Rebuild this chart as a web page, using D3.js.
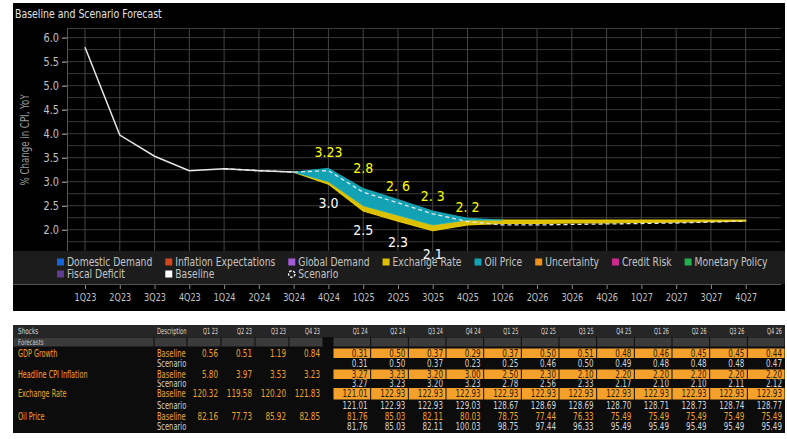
<!DOCTYPE html>
<html>
<head>
<meta charset="utf-8">
<script src="https://cdn.jsdelivr.net/npm/d3@7"></script>
<style>
  body { margin: 0; background: #fff; }
  svg { display: block; }
  text { font-family: 'DejaVu Sans Condensed', 'DejaVu Sans', sans-serif; }
</style>
</head>
<body>
<div id="chart"></div>
<script>
// DATA
const quarters = ['1Q23', '2Q23', '3Q23', '4Q23', '1Q24', '2Q24', '3Q24', '4Q24', '1Q25', '2Q25',
  '3Q25', '4Q25', '1Q26', '2Q26', '3Q26', '4Q26', '1Q27', '2Q27', '3Q27', '4Q27'];
const baselineCPI = [5.80, 3.97, 3.53, 3.23, 3.27, 3.23, 3.20, 3.00, 2.50, 2.30,
  2.10, 2.20, 2.20, 2.20, 2.20, 2.20, 2.20, 2.20, 2.20, 2.20];
const scenarioCPI = [null, null, null, null, 3.27, 3.23, 3.20, 3.23, 2.78, 2.56,
  2.33, 2.17, 2.10, 2.10, 2.11, 2.12, 2.13, 2.14, 2.16, 2.18];
const oilContribution = [null, null, null, null, null, null, 0, 0.28, 0.36, 0.33,
  0.29, 0.04, 0, null, null, null, null, null, null, null];
const fxContribution = [null, null, null, null, null, null, 0, -0.05, -0.11, -0.12,
  -0.12, -0.10, -0.07, -0.07, -0.06, -0.06, -0.05, -0.04, -0.03, -0.02];
const yTicks = [2.0, 2.5, 3.0, 3.5, 4.0, 4.5, 5.0, 5.5, 6.0];

// value labels on the chart
const scenarioLabels = ['3.23', '2.8', '2. 6', '2. 3', '2. 2'];
const scenarioLabelQuarters = ['4Q24', '1Q25', '2Q25', '3Q25', '4Q25'];
const baselineLabels = ['3.0', '2.5', '2.3', '2.1'];
const baselineLabelQuarters = ['4Q24', '1Q25', '2Q25', '3Q25'];

const legendNames = ['Domestic Demand', 'Inflation Expectations', 'Global Demand', 'Exchange Rate',
  'Oil Price', 'Uncertainty', 'Credit Risk', 'Monetary Policy', 'Fiscal Deficit', 'Baseline', 'Scenario'];

// table
const tableQuarters = ['Q1 23', 'Q2 23', 'Q3 23', 'Q4 23', 'Q1 24', 'Q2 24', 'Q3 24', 'Q4 24',
  'Q1 25', 'Q2 25', 'Q3 25', 'Q4 25', 'Q1 26', 'Q2 26', 'Q3 26', 'Q4 26'];
const gdpBaseline = [0.56, 0.51, 1.19, 0.84, 0.31, 0.50, 0.37, 0.29, 0.37, 0.50, 0.51, 0.48, 0.46, 0.45, 0.45, 0.44];
const gdpScenario = [null, null, null, null, 0.31, 0.50, 0.37, 0.23, 0.25, 0.46, 0.50, 0.49, 0.48, 0.48, 0.48, 0.47];
const cpiScenarioTable = scenarioCPI.slice(0, 16);
const fxBaseline = [120.32, 119.58, 120.20, 121.83, 121.01, 122.93, 122.93, 122.93, 122.93, 122.93,
  122.93, 122.93, 122.93, 122.93, 122.93, 122.93];
const fxScenario = [null, null, null, null, 121.01, 122.93, 122.93, 129.03, 128.67, 128.69,
  128.69, 128.70, 128.71, 128.73, 128.74, 128.77];
const oilBaseline = [82.16, 77.73, 85.92, 82.85, 81.76, 85.03, 82.11, 80.03, 78.75, 77.44,
  76.33, 75.49, 75.49, 75.49, 75.49, 75.49];
const oilScenario = [null, null, null, null, 81.76, 85.03, 82.11, 100.03, 98.75, 97.44,
  96.33, 95.49, 95.49, 95.49, 95.49, 95.49];

// SETTINGS
const width = 787;
const height = 439;
const panel = { x: 13, y: 3, w: 772, h: 308 };
const margin = { top: 28, left: 67 };
const graphWidth = 714;
const graphHeight = 256;
const legendTop = 251;
const gridColor = '#3a3a3a';
const axisText = '#c4c4c4';
const teal = '#12a2b4';
const yellow = '#dcc000';
const orange = '#f4a12c';
const legendColors = {
  'Domestic Demand': '#1565d6', 'Inflation Expectations': '#d2461d', 'Global Demand': '#a25ad6',
  'Exchange Rate': '#dcc000', 'Oil Price': '#14a3b4', 'Uncertainty': '#f0901f',
  'Credit Risk': '#cc2a8e', 'Monetary Policy': '#22b14c', 'Fiscal Deficit': '#5f3c8e', 'Baseline': '#ffffff'
};
// label anchors in % units
const scenarioLabelLevels = [3.52, 3.18, 2.81, 2.60, 2.37];
const baselineLabelLevels = [2.45, 1.90, 1.63, 1.385];

// squeeze text horizontally, the terminal font is much narrower than anything installed
function squeeze(sel, k) {
  sel.each(function () {
    const t = d3.select(this);
    t.attr('x', (+t.attr('x') || 0) / k)
      .attr('transform', `scale(${k},1)`);
  });
}

// SCALES
const x = d3.scalePoint().domain(quarters).range([18, 678.7]);
const y = d3.scaleLinear().domain([0.87, 6.2]).range([graphHeight, 0]);

const svg = d3.select('#chart')
  .append('svg')
  .attr('width', width)
  .attr('height', height);

// CHART PANEL
svg.append('rect')
  .attr('x', panel.x).attr('y', panel.y)
  .attr('width', panel.w).attr('height', panel.h)
  .attr('fill', '#000');

svg.append('text')
  .attr('x', 15).attr('y', 18)
  .attr('fill', '#e2e2e2')
  .attr('font-size', 12)
  .text('Baseline and Scenario Forecast')
  .call(squeeze, 0.87);

const graph = svg.append('g')
  .attr('transform', `translate(${margin.left}, ${margin.top})`);

// GRID
graph.append('g')
  .selectAll('line')
  .data(d3.range(1, 6.01, 0.25))
  .join('line')
  .attr('x1', 0).attr('x2', graphWidth)
  .attr('y1', d => y(d)).attr('y2', d => y(d))
  .attr('stroke', gridColor);

graph.append('line')
  .attr('x1', 0).attr('x2', graphWidth)
  .attr('y1', 0.5).attr('y2', 0.5)
  .attr('stroke', gridColor);

graph.append('g')
  .selectAll('line')
  .data(quarters)
  .join('line')
  .attr('x1', d => x(d)).attr('x2', d => x(d))
  .attr('y1', 0).attr('y2', graphHeight)
  .attr('stroke', '#444');

// LEGEND BAND
svg.append('rect')
  .attr('x', panel.x).attr('y', legendTop)
  .attr('width', panel.w).attr('height', margin.top + graphHeight - legendTop)
  .attr('fill', '#1c1c1c');

// AXES
const yAxisGroup = graph.append('g')
  .call(d3.axisLeft(y).tickValues(yTicks).tickFormat(d3.format('.1f')).tickSize(5).tickPadding(3));
yAxisGroup.select('.domain').remove();
yAxisGroup.selectAll('line').attr('stroke', '#bbb');
yAxisGroup.selectAll('text').attr('fill', axisText).attr('font-size', 12)
  .attr('font-family', "'DejaVu Sans Condensed', sans-serif")
  .call(squeeze, 0.9);

graph.append('line')
  .attr('x1', 0.5).attr('x2', 0.5)
  .attr('y1', 0).attr('y2', legendTop - margin.top)
  .attr('stroke', '#555');

const xAxisGroup = graph.append('g')
  .attr('transform', `translate(0, ${graphHeight})`)
  .call(d3.axisBottom(x).tickSize(5).tickPadding(4));
xAxisGroup.select('.domain').remove();
xAxisGroup.selectAll('line').attr('stroke', '#888');
xAxisGroup.selectAll('text').attr('fill', axisText).attr('font-size', 11)
  .attr('font-family', "'DejaVu Sans Condensed', sans-serif")
  .call(squeeze, 0.82);

graph.append('line')
  .attr('x1', -margin.left + panel.x).attr('x2', graphWidth)
  .attr('y1', graphHeight + 0.5).attr('y2', graphHeight + 0.5)
  .attr('stroke', '#555');

svg.append('text')
  .attr('transform', `translate(29, ${margin.top + y(3.87)}) rotate(-90) scale(0.8,1)`)
  .attr('text-anchor', 'middle')
  .attr('fill', '#9a9a9a')
  .attr('font-size', 12)
  .text('% Change in CPI, YoY');

// SHOCK CONTRIBUTION AREAS
const rows = quarters.map((q, i) => ({
  q, base: baselineCPI[i], scen: scenarioCPI[i], oil: oilContribution[i], fx: fxContribution[i]
}));

const oilArea = d3.area()
  .defined(d => d.oil !== null)
  .x(d => x(d.q))
  .y0(d => y(d.base))
  .y1(d => y(d.base + d.oil));

const fxArea = d3.area()
  .defined(d => d.fx !== null)
  .x(d => x(d.q))
  .y0(d => y(d.base))
  .y1(d => y(d.base + d.fx));

graph.append('path')
  .datum(rows)
  .attr('d', fxArea)
  .attr('fill', yellow)
  .attr('stroke', '#e6ca08')
  .attr('stroke-width', 1.2);

graph.append('path')
  .datum(rows)
  .attr('d', oilArea)
  .attr('fill', teal)
  .attr('stroke', '#1bb0c2')
  .attr('stroke-width', 0.8);

// LINES
const baseLine = d3.line()
  .x(d => x(d.q))
  .y(d => y(d.base));

graph.append('path')
  .datum(rows.filter(d => d.fx === null || d.fx === 0))
  .attr('d', baseLine)
  .attr('fill', 'none')
  .attr('stroke', '#e6e6e6')
  .attr('stroke-width', 1.5);

const scenLine = d3.line()
  .defined(d => d.scen !== null)
  .x(d => x(d.q))
  .y(d => y(d.scen));

graph.append('path')
  .datum(rows)
  .attr('d', scenLine)
  .attr('fill', 'none')
  .attr('stroke', '#e8e8e8')
  .attr('stroke-width', 1.3)
  .attr('stroke-dasharray', '4,3');

// LEGEND
const legendK = 0.89;
const legend = svg.append('g')
  .attr('font-size', 11.5)
  .attr('fill', axisText);

const legendRowY = [262, 274];
const colX = [];
let cursor = 57;
legendNames.forEach((name, i) => {
  const row = i < 8 ? 0 : 1;
  const col = row === 0 ? i : i - 8;
  if (row === 0) colX.push(cursor);
  const lx = colX[col];
  const ly = legendRowY[row];
  const item = legend.append('g').attr('transform', `translate(${lx}, ${ly})`);
  if (name === 'Scenario') {
    item.append('circle')
      .attr('cx', 3.5).attr('cy', 0).attr('r', 3.2)
      .attr('fill', 'none')
      .attr('stroke', '#fff')
      .attr('stroke-width', 1.4)
      .attr('stroke-dasharray', '2.5,1.5');
  } else {
    item.append('rect')
      .attr('x', 0).attr('y', -3.5)
      .attr('width', 7).attr('height', 7)
      .attr('fill', legendColors[name]);
  }
  const t = item.append('text')
    .attr('x', 10).attr('y', 4)
    .text(name)
    .call(squeeze, legendK);
  if (row === 0) cursor = lx + 10 + t.node().getComputedTextLength() * legendK + 13;
});

// VALUE LABELS (above the legend band)
const labels = svg.append('g')
  .attr('transform', `translate(${margin.left}, ${margin.top})`)
  .attr('font-family', "'Liberation Sans', Arial, sans-serif")
  .attr('font-size', 14)
  .attr('text-anchor', 'middle');

labels.append('g')
  .selectAll('text')
  .data(scenarioLabels)
  .join('text')
  .attr('x', (d, i) => x(scenarioLabelQuarters[i]))
  .attr('y', (d, i) => y(scenarioLabelLevels[i]))
  .attr('fill', '#ffff00')
  .text(d => d);

labels.append('g')
  .selectAll('text')
  .data(baselineLabels)
  .join('text')
  .attr('x', (d, i) => x(baselineLabelQuarters[i]))
  .attr('y', (d, i) => y(baselineLabelLevels[i]))
  .attr('fill', '#ffffff')
  .text(d => d);

// TABLE
const table = svg.append('g');
const tableLeft = 13;
const tableRight = 785;
const headerTop = 325;
const fmt = d3.format('.2f');

// column right edges: 2023 columns are narrower than forecast columns
const histX = d3.scaleLinear().domain([0, 3]).range([221, 323]);
const fcstStep = (tableRight - 333) / 12;
const cellLeft = i => i < 4 ? histX(i) - 34 : 333 + (i - 4) * fcstStep;
const cellRight = i => i < 4 ? histX(i) : 333 + (i - 3) * fcstStep;

table.append('rect')
  .attr('x', tableLeft).attr('y', headerTop)
  .attr('width', tableRight - tableLeft).attr('height', 108)
  .attr('fill', '#0c0c0c');

table.append('rect')
  .attr('x', tableLeft).attr('y', headerTop)
  .attr('width', tableRight - tableLeft).attr('height', 12)
  .attr('fill', '#262626');

// forecasts sub header cells
const subCells = [[tableLeft, 154], [154, histX(0) - 34]].concat(tableQuarters.map((q, i) => [cellLeft(i), cellRight(i)]));
table.selectAll('.sub')
  .data(subCells)
  .join('rect')
  .attr('x', d => d[0] + 0.5).attr('y', headerTop + 12.5)
  .attr('width', d => d[1] - d[0] - 1).attr('height', 9)
  .attr('fill', '#3b3b3b');

table.append('text').attr('x', 18).attr('y', headerTop + 9.5)
  .attr('font-size', 8.5).attr('fill', '#d8d8d8').text('Shocks').call(squeeze, 0.75);
table.append('text').attr('x', 18).attr('y', headerTop + 20)
  .attr('font-size', 8).attr('fill', '#c8c8c8').text('Forecasts').call(squeeze, 0.75);
table.append('text').attr('x', 157).attr('y', headerTop + 9.5)
  .attr('font-size', 8.5).attr('fill', '#d8d8d8').text('Description').call(squeeze, 0.68);
table.selectAll('.qh')
  .data(tableQuarters)
  .join('text')
  .attr('x', (d, i) => cellRight(i) - 3)
  .attr('y', headerTop + 9.5)
  .attr('text-anchor', 'end')
  .attr('font-size', 8.5)
  .attr('fill', '#d8d8d8')
  .text(d => d)
  .call(squeeze, 0.65);

const tableRows = [
  { label: 'GDP Growth', desc: 'Baseline', values: gdpBaseline, base: true, fill: true },
  { label: '', desc: 'Scenario', values: gdpScenario },
  { label: 'Headline CPI Inflation', desc: 'Baseline', values: baselineCPI.slice(0, 16), base: true, fill: true },
  { label: '', desc: 'Scenario', values: cpiScenarioTable, clipped: true },
  { label: 'Exchange Rate', desc: 'Baseline', values: fxBaseline, base: true, fill: true },
  { label: '', desc: 'Scenario', values: fxScenario },
  { label: 'Oil Price', desc: 'Baseline', values: oilBaseline, base: true, fill: false },
  { label: '', desc: 'Scenario', values: oilScenario }
];
const rowTops = [348, 358.5, 369, 379.5, 387.5, 400, 411.5, 422, 432];

table.append('clipPath').attr('id', 'cpiclip')
  .append('rect')
  .attr('x', tableLeft).attr('y', rowTops[3])
  .attr('width', tableRight - tableLeft).attr('height', rowTops[4] - rowTops[3]);

tableRows.forEach((r, ri) => {
  const top = rowTops[ri];
  const h = rowTops[ri + 1] - top;
  const mid = top + h / 2 + 3.5;
  const g = table.append('g');
  if (r.clipped) g.attr('clip-path', 'url(#cpiclip)');

  if (r.label) {
    g.append('text').attr('x', 18).attr('y', mid)
      .attr('font-size', 10).attr('fill', orange).text(r.label)
      .call(squeeze, 0.72);
  }
  g.append('text').attr('x', 157).attr('y', mid)
    .attr('font-size', 10).attr('fill', r.base ? orange : '#cfcfcf').text(r.desc)
    .call(squeeze, 0.75);

  if (r.fill) {
    g.selectAll('rect.cell')
      .data(r.values.slice(4))
      .join('rect')
      .attr('x', (d, i) => cellLeft(i + 4) + 0.5)
      .attr('y', top + 0.5)
      .attr('width', fcstStep - 1)
      .attr('height', h - 1)
      .attr('fill', orange);
  }

  g.selectAll('text.val')
    .data(r.values.map((v, i) => ({ v, i })).filter(d => d.v !== null))
    .join('text')
    .attr('x', d => cellRight(d.i) - 3)
    .attr('y', mid)
    .attr('text-anchor', 'end')
    .attr('font-size', 10)
    .attr('fill', d => {
      if (!r.base) return '#d4d4d4';
      if (r.fill && d.i >= 4) return '#2b1a00';
      return orange;
    })
    .text(d => fmt(d.v))
    .call(squeeze, 0.8);
});
</script>
</body>
</html>
